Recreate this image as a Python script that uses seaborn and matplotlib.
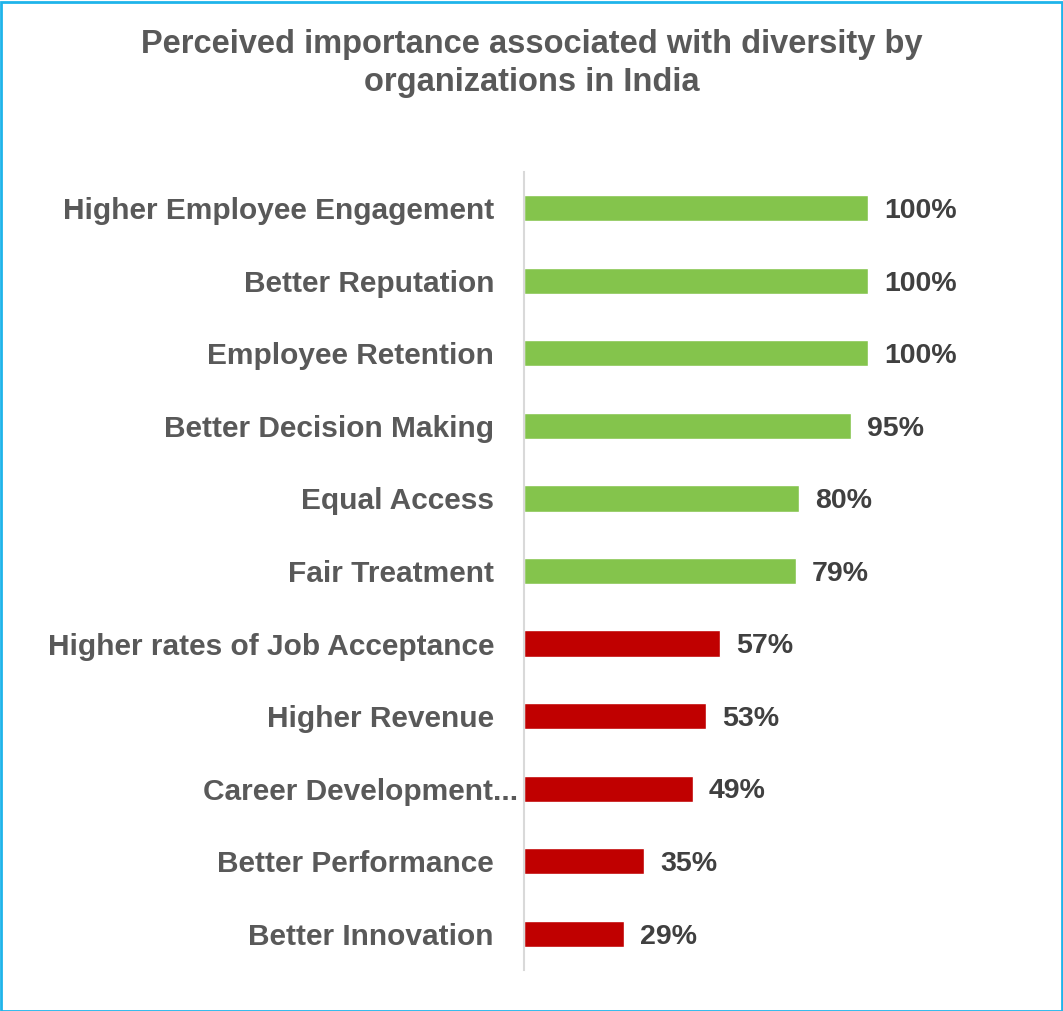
import matplotlib
matplotlib.use("Agg")
import matplotlib.pyplot as plt
import matplotlib.transforms as mtransforms
from matplotlib.patches import Rectangle
import seaborn as sns
import pandas as pd

# Survey results: share of organizations citing each benefit of diversity
categories = [
    "Higher Employee Engagement",
    "Better Reputation",
    "Employee Retention",
    "Better Decision Making",
    "Equal Access",
    "Fair Treatment",
    "Higher rates of Job Acceptance",
    "Higher Revenue",
    "Career Development...",
    "Better Performance",
    "Better Innovation",
]
values = [100, 100, 100, 95, 80, 79, 57, 53, 49, 35, 29]
groups = ["high"] * 6 + ["low"] * 5
value_labels = [f"{v}%" for v in values]

palette = {"high": "#84C44C", "low": "#C00000"}

df = pd.DataFrame({"benefit": categories, "pct": values, "group": groups})

sns.set_theme(style="white")
plt.rcParams["font.family"] = ["Liberation Sans", "DejaVu Sans"]

W, H = 1063, 1011
fig = plt.figure(figsize=(W / 100, H / 100), dpi=100)
ax = fig.add_axes([524 / W, 1 - 970 / H, 516 / W, (970 - 172) / H])

sns.barplot(data=df, x="pct", y="benefit", hue="group", palette=palette,
            order=categories, dodge=False, width=0.36, legend=False, ax=ax,
            saturation=1)

ax.set_xlim(0, 150)
ax.set_ylim(len(categories) - 0.5, -0.5)
ax.set_xlabel("")
ax.set_ylabel("")
ax.set_xticks([])

for s in ["top", "right", "bottom"]:
    ax.spines[s].set_visible(False)
ax.spines["left"].set_color("#D9D9D9")
ax.spines["left"].set_linewidth(1.5)

ax.tick_params(axis="y", length=0, pad=21.6)
for lbl in ax.get_yticklabels():
    lbl.set_fontsize(21.5)
    lbl.set_fontweight("bold")
    lbl.set_color("#595959")
    if lbl.get_text().endswith("..."):
        lbl.set_transform(lbl.get_transform() +
                          mtransforms.ScaledTranslation(24 / 100, 0, fig.dpi_scale_trans))

for i, (v, t) in enumerate(zip(values, value_labels)):
    ax.annotate(t, xy=(v, i), xytext=(11.5, -2), textcoords="offset points",
                ha="left", va="center", fontsize=20.5, fontweight="bold",
                color="#404040")

fig.text(0.5, 1 - 45 / H, "Perceived importance associated with diversity by",
         ha="center", va="center", fontsize=23.5, fontweight="bold", color="#595959")
fig.text(0.5, 1 - 83 / H, "organizations in India",
         ha="center", va="center", fontsize=23.5, fontweight="bold", color="#595959")

# Outer frame
fig.patches.append(Rectangle((0.5 / W, 0.5 / H), 1 - 2 / W, 1 - 2 / H,
                             transform=fig.transFigure, fill=False,
                             edgecolor="#1FB4EA", linewidth=2))

fig.savefig("out.png", dpi=100, facecolor="white")
